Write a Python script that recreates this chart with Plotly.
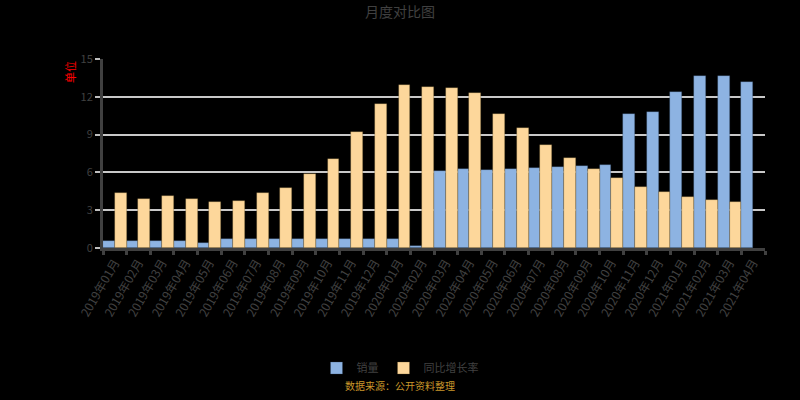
import plotly.graph_objects as go

categories = [f"2019年{m:02d}月" for m in range(1, 13)] + \
             [f"2020年{m:02d}月" for m in range(1, 13)] + \
             [f"2021年{m:02d}月" for m in range(1, 5)]

series_a_name = "销量"
series_b_name = "同比增长率"

series_a = [0.54, 0.54, 0.54, 0.54, 0.42, 0.75, 0.75, 0.75, 0.75, 0.69,
            0.69, 0.69, 0.69, 0.15, 6.12, 6.27, 6.21, 6.30, 6.36, 6.40,
            6.48, 6.60, 10.62, 10.80, 12.42, 13.66, 13.68, 13.14]
series_b = [4.35, 3.92, 4.11, 3.87, 3.68, 3.72, 4.40, 4.80, 5.88, 7.08,
            9.24, 11.44, 12.96, 12.78, 12.72, 12.30, 10.62, 9.54, 8.16, 7.18,
            6.30, 5.58, 4.86, 4.47, 4.05, 3.82, 3.63, None]

y_ticks = [0, 3, 6, 9, 12, 15]

title_text = "月度对比图"
y_title = "单位"
footer_text = "数据来源：公开资料整理"

FONT = "Noto Sans CJK SC"
TXT = "#404040"

fig = go.Figure()
fig.add_trace(go.Bar(x=categories, y=series_a, name=series_a_name,
                     marker=dict(color="#8DB3E2", line=dict(color="rgba(40,60,90,0.5)", width=0.6))))
fig.add_trace(go.Bar(x=categories, y=series_b, name=series_b_name,
                     marker=dict(color="#FDD79B", line=dict(color="rgba(90,70,30,0.5)", width=0.6))))

fig.update_layout(
    width=800, height=400,
    paper_bgcolor="black", plot_bgcolor="black",
    margin=dict(l=103, r=35, t=59, b=152),
    barmode="group", bargap=0, bargroupgap=0,
    font=dict(family=FONT, color=TXT, size=10),
    title=dict(text=title_text, x=0.5, xanchor="center", y=0.97, yanchor="middle",
               font=dict(size=14, color=TXT, family=FONT)),
    showlegend=True,
    legend=dict(orientation="h", xref="container", yref="container",
                x=0.5, xanchor="center", y=0.08, yanchor="middle",
                font=dict(size=11, color=TXT), bgcolor="rgba(0,0,0,0)"),
    xaxis=dict(tickangle=-60, tickfont=dict(size=12, color=TXT),
               showline=True, linecolor="#404040", linewidth=3,
               ticks="outside", ticklen=4, tickcolor="#404040", tickwidth=3,
               tickson="boundaries", showgrid=False),
    yaxis=dict(range=[0, 15], tickvals=y_ticks, ticktext=[str(v) for v in y_ticks],
               tickfont=dict(size=11, color=TXT),
               showline=True, linecolor="#404040", linewidth=3,
               ticks="outside", ticklen=5, tickcolor="#bfbfbf", tickwidth=2,
               showgrid=True, gridcolor="#c8c8c8", gridwidth=2, zeroline=False),
    annotations=[
        dict(text=y_title, xref="paper", yref="paper", x=-0.05, y=1.0,
             xanchor="center", yanchor="top", textangle=-90, showarrow=False,
             font=dict(size=11, color="red", family=FONT)),
        dict(text=footer_text, xref="paper", yref="paper", x=0.4486, y=-0.73,
             xanchor="center", yanchor="middle", showarrow=False,
             font=dict(size=10, color="#C9962A", family=FONT)),
    ],
)

fig.write_html("out.html", config={"displayModeBar": False},
               post_script="document.body.style.margin='0';document.body.style.background='black';")
